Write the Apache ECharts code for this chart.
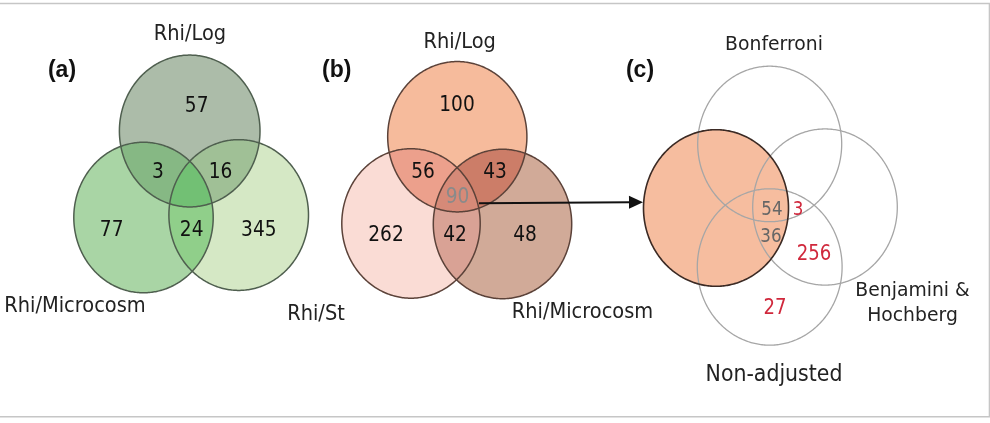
<!DOCTYPE html>
<html>
<head>
<meta charset="utf-8">
<script src="https://cdn.jsdelivr.net/npm/echarts@6/dist/echarts.min.js"></script>
<style>html,body{margin:0;padding:0;background:#fff}#c{width:990px;height:423px}</style>
</head>
<body>
<div id="c"></div>
<script>
// ---------------- data ----------------
// Panel (a): set labels and region counts
const setNamesA = ['Rhi/Log', 'Rhi/Microcosm', 'Rhi/St'];
const countsA = [57, 3, 16, 77, 24, 345];           // Log only, Log∩Micro, Log∩St, Micro only, Micro∩St, St only
// Panel (b)
const setNamesB = ['Rhi/Log', 'Rhi/Microcosm'];
const countsB = [100, 56, 43, 90, 262, 42, 48];
// Panel (c)
const setNamesC = ['Bonferroni', 'Benjamini &\nHochberg', 'Non-adjusted'];
const countsC = [54, 3, 36, 256, 27];
const panelTags = ['(a)', '(b)', '(c)'];

// ---------------- layout (data units of the hidden axes) ----------------
const Y = 1.08; // vertical stretch of the figure
const circlesA = [[189.7, 121.3, 70.3], [143.5, 201.4, 69.7], [238.7, 199.1, 69.8]];
const circlesB = [[457.3, 126.6, 69.6], [411.0, 206.9, 69.2], [502.5, 207.4, 69.2]];
const circlesC = [[769.7, 133.3, 72.0], [825.0, 191.7, 72.3], [769.7, 247.2, 72.4]];
const circleOrange = [[716.0, 192.6, 72.5]];

const countPosA = [[196.7, 98.8], [158, 159.3], [220.5, 159.3], [111.7, 213], [191.7, 213], [258.8, 213]];
const countPosB = [[457, 97.2], [423, 159.7], [495, 159.7], [457.5, 182.9], [386, 218.1], [455, 218.1], [525, 218.1]];
const countPosC = [[772, 194], [798, 194], [771, 219], [814, 236.1], [775, 285.6]];
const setPosA = [[190, 31.6], [75, 284.3], [316, 291.7]];
const setPosB = [[459.7, 39.4], [582.5, 289.4]];
const setPosC = [[774, 41.2], [912.5, 280.5], [774, 347.7]];
const tagPos = [[62, 65.6], [336.7, 65.6], [640, 65.6]];
const arrowB2C = [[479, 188.2], [643, 187.2]];

// ---------------- styles ----------------
const fillA = { single: ['#acbca9', '#a9d5a5', '#d5e8c5'], pair: { '0,1': '#86b884', '0,2': '#a0c096', '1,2': '#90cf8a' }, triple: '#72c074' };
const fillB = { single: ['#f6bb9c', '#fadcd5', '#d1aa98'], pair: { '0,1': '#eca08c', '0,2': '#cc7d68', '1,2': '#d9a295' }, triple: '#d68a78' };

function inside(c, x, y) { const dx = x - c[0], dy = y - c[1]; return dx * dx + dy * dy <= c[2] * c[2] + 1e-9; }
function regionPoints(circles, S) {
  const pts = []; const N = 900;
  S.forEach(i => {
    const c = circles[i];
    for (let k = 0; k < N; k++) {
      const t = 2 * Math.PI * k / N;
      const x = c[0] + c[2] * Math.cos(t), y = c[1] + c[2] * Math.sin(t);
      if (S.every(j => j === i || inside(circles[j], x, y))) pts.push([x, y]);
    }
  });
  let mx = 0, my = 0; pts.forEach(p => { mx += p[0]; my += p[1]; }); mx /= pts.length; my /= pts.length;
  pts.sort((a, b) => Math.atan2(a[1] - my, a[0] - mx) - Math.atan2(b[1] - my, b[0] - mx));
  return pts;
}
function regionList(circles, fill) {
  const list = [];
  fill.single.forEach((col, i) => list.push({ S: [i], color: col }));
  Object.keys(fill.pair).forEach(k => list.push({ S: k.split(',').map(Number), color: fill.pair[k] }));
  list.push({ S: [0, 1, 2], color: fill.triple });
  return list.map(r => ({ pts: regionPoints(circles, r.S), color: r.color }));
}
const regions = [].concat(
  regionList(circlesA, fillA),
  regionList(circlesB, fillB),
  [{ pts: regionPoints(circleOrange, [0]), color: '#f6bd9f' }]
);
const outlines = [].concat(
  circlesA.map(c => ({ c, stroke: '#4f5f4f', w: 1.5 })),
  circlesB.map(c => ({ c, stroke: '#5b4239', w: 1.5 })),
  circlesC.map(c => ({ c, stroke: '#a6a6a6', w: 1.3 })),
  circleOrange.map(c => ({ c, stroke: '#3b2a24', w: 1.6 }))
);

// texts: size, horizontal scale
const FONT = '"DejaVu Sans", Verdana, sans-serif';
const texts = [];
countsA.forEach((v, i) => texts.push({ t: String(v), p: countPosA[i], size: 20, sx: 0.93, color: '#111' }));
countsB.forEach((v, i) => texts.push({ t: String(v), p: countPosB[i], size: 20, sx: 0.93, color: v === 90 ? '#8a8a8a' : '#111' }));
const cColors = ['#666', '#d0283c', '#666', '#d0283c', '#d0283c'];
const cSizes = [18, 18, 18, 19.5, 19.5];
countsC.forEach((v, i) => texts.push({ t: String(v), p: countPosC[i], size: cSizes[i], sx: 0.93, color: cColors[i] }));
setNamesA.forEach((s, i) => texts.push({ t: s, p: setPosA[i], size: 19.4, sx: 1, color: '#222' }));
setNamesB.forEach((s, i) => texts.push({ t: s, p: setPosB[i], size: 19.4, sx: 1, color: '#222' }));
setNamesC.forEach((s, i) => texts.push({ t: s, p: setPosC[i], size: i === 2 ? 20.5 : 18.8, sx: 1, color: '#222', lh: 23 }));
panelTags.forEach((s, i) => texts.push({ t: s, p: tagPos[i], size: 23, sx: 1, sy: 1, color: '#111', bold: true }));

const chart = echarts.init(document.getElementById('c'), null, { renderer: 'canvas' });
chart.setOption({
  animation: false,
  backgroundColor: '#fff',
  grid: { left: 0, right: 0, top: 0, bottom: 0 },
  xAxis: { type: 'value', min: 0, max: 990, show: false },
  yAxis: { type: 'value', min: 0, max: 423 / Y, inverse: true, show: false },
  graphic: [{ type: 'rect', silent: true, z: 100, shape: { x: -3, y: 3.5, width: 992.5, height: 413.3 }, style: { fill: 'none', stroke: '#c6c6c6', lineWidth: 1.6 } }],
  series: [
    { // region fills
      type: 'custom', coordinateSystem: 'cartesian2d', clip: false, z: 1,
      data: regions.map((r, i) => [r.pts[0][0], r.pts[0][1], i]),
      renderItem: (params, api) => {
        const r = regions[api.value(2)];
        return { type: 'polygon', shape: { points: r.pts.map(p => api.coord(p)) }, style: { fill: r.color, stroke: null } };
      }
    },
    { // outlines
      type: 'custom', coordinateSystem: 'cartesian2d', clip: false, z: 2,
      data: outlines.map((o, i) => [o.c[0], o.c[1], i]),
      renderItem: (params, api) => {
        const o = outlines[api.value(2)];
        const pts = [];
        for (let k = 0; k < 360; k++) { const t = 2 * Math.PI * k / 360; pts.push(api.coord([o.c[0] + o.c[2] * Math.cos(t), o.c[1] + o.c[2] * Math.sin(t)])); }
        return { type: 'polygon', shape: { points: pts }, style: { fill: null, stroke: o.stroke, lineWidth: o.w } };
      }
    },
    { // arrow
      type: 'custom', coordinateSystem: 'cartesian2d', clip: false, z: 3,
      data: [[arrowB2C[0][0], arrowB2C[0][1], arrowB2C[1][0], arrowB2C[1][1]]],
      renderItem: (params, api) => {
        const a = api.coord([api.value(0), api.value(1)]);
        const b = api.coord([api.value(2), api.value(3)]);
        const L = 14, W = 6.4;
        const ang = Math.atan2(b[1] - a[1], b[0] - a[0]);
        const bx = b[0] - L * Math.cos(ang), by = b[1] - L * Math.sin(ang);
        const nx = -Math.sin(ang) * W, ny = Math.cos(ang) * W;
        return { type: 'group', children: [
          { type: 'line', shape: { x1: a[0], y1: a[1], x2: bx + 1, y2: by }, style: { stroke: '#111', lineWidth: 2 } },
          { type: 'polygon', shape: { points: [[b[0], b[1]], [bx + nx, by + ny], [bx - nx, by - ny]] }, style: { fill: '#111' } }
        ] };
      }
    },
    { // texts
      type: 'custom', coordinateSystem: 'cartesian2d', clip: false, z: 4,
      data: texts.map((t, i) => [t.p[0], t.p[1], i]),
      renderItem: (params, api) => {
        const t = texts[api.value(2)];
        const p = api.coord([api.value(0), api.value(1)]);
        return { type: 'text', x: p[0], y: p[1], scaleX: t.sx, scaleY: t.sy || Y, style: {
          text: t.t, x: 0, y: 0, align: 'center', verticalAlign: 'middle',
          fill: t.color, lineHeight: t.lh || t.size * 1.2,
          font: (t.bold ? 'bold ' : '') + t.size + 'px ' + (t.bold ? '"Liberation Sans", Arial, sans-serif' : FONT)
        } };
      }
    }
  ]
});
</script>
</body>
</html>
